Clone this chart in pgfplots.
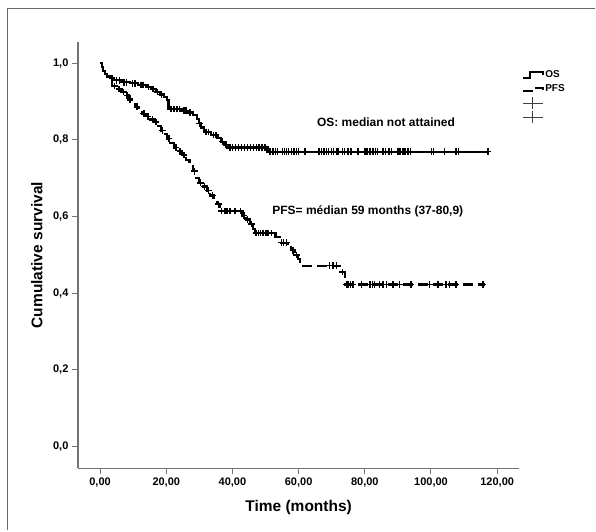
\documentclass[border=0pt]{standalone}
\usepackage{pgfplots}
\pgfplotsset{compat=1.18}
\usepackage{fontspec}
\setmainfont{Liberation Sans}
\definecolor{axgray}{RGB}{115,115,115}
\definecolor{framegray}{RGB}{105,105,105}
\begin{document}
\begin{tikzpicture}
\path (0pt,0pt) rectangle (596pt,531pt);
\draw[line width=1.5pt, framegray] (7.3pt,0pt) -- (7.3pt,522.7pt) -- (596pt,522.7pt);
\begin{axis}[
  at={(78pt,62pt)}, anchor=south west,
  scale only axis, width=442pt, height=427pt,
  xmin=-6.7, xmax=126.7, ymin=-0.0565, ymax=1.055,
  axis x line=bottom, axis y line=left,
  axis line style={axgray, line width=1.3pt, -},
  xtick={0,20,40,60,80,100,120}, ytick={0,0.2,0.4,0.6,0.8,1.0},
  tick align=outside, major tick length=6pt,
  tick style={axgray, line width=1pt},
  x tick label style={/pgf/number format/.cd, fixed, fixed zerofill, precision=2, use comma, assume math mode=true},
  y tick label style={/pgf/number format/.cd, fixed, fixed zerofill, precision=1, use comma, assume math mode=true},
  ticklabel style={font=\bfseries\fontsize{11}{13}\selectfont},
  xlabel={Time (months)}, ylabel={Cumulative survival},
  label style={font=\bfseries\fontsize{15.5}{18}\selectfont},
  xlabel style={at={(axis description cs:0.5,-0.092)}, anchor=center},
  ylabel style={at={(axis description cs:-0.093,0.5)}, anchor=center},
  clip=false,
  legend style={draw=none, fill=none, at={(axis description cs:1.005,0.939)}, anchor=north west,
    font=\bfseries\fontsize{10}{11}\selectfont, row sep=0pt, inner sep=0pt,
    nodes={inner sep=1pt}},
  legend cell align=left,
]
% OS
\addplot[const plot, black, line width=2.2pt,
  legend image code/.code={\path[draw=none,fill=none] (0pt,-7pt) rectangle (20.6pt,7pt); \draw[black,line width=2pt,solid] (0pt,-3pt) -- (7pt,-3pt) -- (7pt,3.5pt) -- (20pt,3.5pt) -- (20pt,0.5pt);}]
coordinates {(0,1.0) (0.6,0.990) (1.0,0.980) (1.5,0.972) (2.2,0.965) (3.2,0.960) (4.2,0.955) (6.5,0.950) (9.0,0.947) (11.5,0.943) (14.0,0.938) (15.5,0.932) (16.8,0.925) (18.0,0.918) (19.2,0.911) (20.2,0.904) (20.7,0.880) (24.5,0.876) (26.5,0.871) (28.2,0.864) (29.2,0.855) (29.8,0.843) (30.5,0.832) (31.4,0.820) (33.5,0.812) (35.5,0.805) (36.5,0.795) (37.6,0.787) (38.4,0.780) (50.6,0.769) (117.3,0.769)};
\addlegendentry{OS}
% PFS
\addplot[const plot, black, line width=2.2pt, dash pattern=on 10pt off 5pt,
  legend image code/.code={\path[draw=none,fill=none] (0pt,-7pt) rectangle (20.6pt,7pt); \draw[black,line width=2pt,solid] (0pt,-2pt) -- (10.6pt,-2pt); \draw[black,line width=2pt,solid] (12.3pt,1.3pt) -- (20.6pt,1.3pt) -- (20.6pt,-0.5pt);}]
coordinates {(0,1.0) (0.6,0.990) (1.0,0.980) (1.5,0.972) (2.2,0.965) (3.0,0.950) (3.6,0.940) (5.0,0.932) (6.5,0.924) (7.7,0.916) (8.6,0.905) (9.6,0.894) (10.6,0.886) (11.8,0.877) (12.8,0.868) (13.8,0.861) (15.2,0.853) (16.5,0.846) (17.5,0.835) (18.3,0.824) (19.2,0.815) (20.3,0.803) (21.3,0.792) (22.3,0.780) (23.5,0.770) (24.8,0.760) (26.0,0.748) (27.0,0.732) (28.0,0.718) (29.0,0.700) (29.8,0.688) (31.0,0.678) (32.2,0.668) (33.3,0.655) (34.5,0.645) (35.4,0.632) (36.3,0.614) (42.8,0.602) (44.0,0.592) (45.2,0.580) (46.2,0.568) (46.8,0.557) (53.0,0.546) (54.2,0.532) (56.8,0.524) (57.8,0.512) (58.8,0.500) (59.8,0.490) (60.5,0.481) (61.3,0.472) (72.6,0.455) (74.0,0.423) (116.2,0.423)};
\addlegendentry{PFS}
% OS censored
\addplot[only marks, mark=+, mark size=3.3pt, black, line width=1.5pt,
  legend image code/.code={\path[draw=none,fill=none] (0pt,-7pt) rectangle (20.6pt,7pt); \draw[black!75,line width=0.8pt] (0pt,0pt) -- (20.6pt,0pt) (10pt,-6pt) -- (10pt,6pt);}]
coordinates {(3.6,0.960) (5.0,0.955) (5.8,0.955) (7.2,0.950) (8.0,0.950) (9.8,0.947) (10.6,0.947) (12.3,0.943) (13.0,0.943) (14.7,0.938) (16.0,0.932) (17.4,0.925) (18.6,0.918) (21.5,0.880) (22.3,0.880) (23.2,0.880) (24.0,0.880) (25.3,0.876) (26.0,0.876) (27.2,0.871) (30.1,0.843) (32.0,0.820) (32.8,0.820) (34.2,0.812) (35.0,0.812) (37.0,0.795) (38.0,0.787) (39.2,0.780) (40.0,0.780) (40.9,0.780) (41.8,0.780) (42.7,0.780) (43.6,0.780) (44.5,0.780) (45.4,0.780) (46.3,0.780) (47.2,0.780) (48.1,0.780) (49.0,0.780) (49.9,0.780)
(51.3,0.769) (52.3,0.769) (53.0,0.769) (53.6,0.769) (55.1,0.769) (55.8,0.769) (56.3,0.769) (57.0,0.769) (57.8,0.769) (58.6,0.769) (59.3,0.769) (60.0,0.769) (61.9,0.769) (66.2,0.769) (66.9,0.769) (67.6,0.769) (68.4,0.769) (69.1,0.769) (69.9,0.769) (70.6,0.769) (71.4,0.769) (71.9,0.769) (73.2,0.769) (73.9,0.769) (74.9,0.769) (75.9,0.769) (77.9,0.769) (80.0,0.769) (80.7,0.769) (81.5,0.769) (82.5,0.769) (83.3,0.769) (83.9,0.769) (85.5,0.769) (86.3,0.769) (87.3,0.769) (88.0,0.769) (90.0,0.769) (90.7,0.769) (91.5,0.769) (92.2,0.769) (93.0,0.769) (93.8,0.769) (100.1,0.769) (100.8,0.769) (104.1,0.769) (107.6,0.769) (108.3,0.769) (117.2,0.769)};
\addlegendentry{~}
% PFS censored
\addplot[only marks, mark=+, mark size=3.3pt, black, line width=1.5pt,
  legend image code/.code={\path[draw=none,fill=none] (0pt,-7pt) rectangle (20.6pt,7pt); \draw[black!75,line width=0.8pt] (0pt,0pt) -- (20.6pt,0pt) (10pt,-6pt) -- (10pt,6pt);}]
coordinates {(4.3,0.940) (5.7,0.932) (7.1,0.924) (8.2,0.916) (9.1,0.905) (11.2,0.886) (13.2,0.868) (14.5,0.861) (15.8,0.853) (16.9,0.846) (18.8,0.824) (20.8,0.803) (23.0,0.780) (24.2,0.770) (25.4,0.760) (28.5,0.718) (30.4,0.688) (31.6,0.678) (32.8,0.668) (34.0,0.655) (35.8,0.632) (36.7,0.614) (37.7,0.614) (38.4,0.614) (39.2,0.614) (40.7,0.614) (42.5,0.614) (43.5,0.602) (44.6,0.592) (45.7,0.580) (47.1,0.557) (47.8,0.557) (48.5,0.557) (49.3,0.557) (50.1,0.557) (50.8,0.557) (51.8,0.557) (54.8,0.532) (55.5,0.532) (56.3,0.532) (58.3,0.512) (59.3,0.500) (69.4,0.472) (70.4,0.472) (71.4,0.472) (73.2,0.455) (74.4,0.423) (74.9,0.423) (75.6,0.423) (76.4,0.423) (79.0,0.423) (81.5,0.423) (82.3,0.423) (83.0,0.423) (84.5,0.423) (85.5,0.423) (86.5,0.423) (88.5,0.423) (90.5,0.423) (94.0,0.423) (99.6,0.423) (102.1,0.423) (104.6,0.423) (105.6,0.423) (107.6,0.423) (115.7,0.423)};
\addlegendentry{~}
\node[font=\bfseries\fontsize{12}{14}\selectfont, anchor=center] at (axis cs:86.4,0.845) {OS: median not attained};
\node[font=\bfseries\fontsize{12}{14}\selectfont, anchor=center] at (axis cs:80.9,0.6135) {PFS= médian 59 months (37-80,9)};
\end{axis}
\end{tikzpicture}
\end{document}
